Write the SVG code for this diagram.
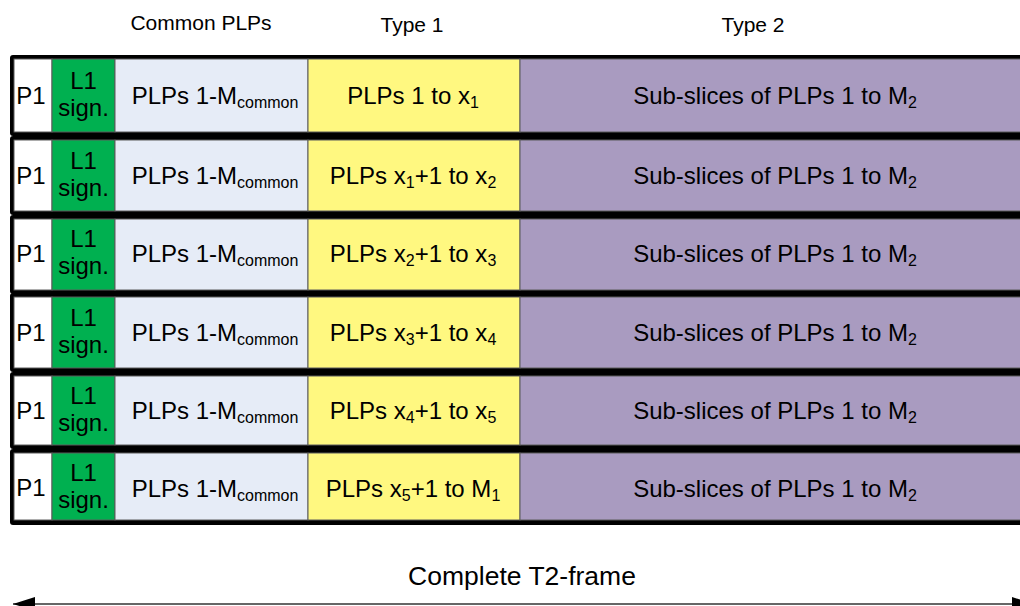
<svg xmlns="http://www.w3.org/2000/svg" width="1020" height="606" viewBox="0 0 1020 606">
<style>
.frame{fill:#000}
.cell{stroke:#5a5a5a;stroke-width:1}
.p1{fill:#fff}
.l1{fill:#00b050}
.com{fill:#e6ecf7}
.t1{fill:#fff880}
.t2{fill:#a99bc0}
text{font-family:"Liberation Sans",Arial,sans-serif;fill:#000}
.c{font-size:24px;text-anchor:middle}
.h{font-size:21px;text-anchor:middle}
.s{font-size:16px}
</style>
<defs>
<marker id="ah" viewBox="0 0 22 14" refX="22" refY="7" markerWidth="22" markerHeight="14" markerUnits="userSpaceOnUse" orient="auto-start-reverse">
<path d="M0,0 L22,7 L0,14 z" fill="#000"/>
</marker>
</defs>
<rect width="1020" height="606" fill="#fff"/>
<g id="headers">
<text class="h" x="201" y="30">Common PLPs</text>
<text class="h" x="412" y="32">Type 1</text>
<text class="h" x="753" y="32">Type 2</text>
</g>
<g id="row1">
<rect class="frame" x="10" y="55" width="1020" height="81" rx="3"/>
<rect class="cell p1" x="14" y="59" width="38" height="73"/>
<rect class="cell l1" x="52" y="59" width="63" height="73"/>
<rect class="cell com" x="115" y="59" width="193" height="73"/>
<rect class="cell t1" x="308" y="59" width="212" height="73"/>
<rect class="cell t2" x="520" y="59" width="510" height="73"/>
<text class="c" x="31" y="104">P1</text>
<text class="c" x="83.5" y="89">L1</text>
<text class="c" x="83.5" y="116">sign.</text>
<text class="c" x="215" y="104">PLPs 1-M<tspan class="s" dy="4">common</tspan></text>
<text class="c" x="413" y="104">PLPs 1 to x<tspan class="s" dy="4">1</tspan></text>
<text class="c" x="775" y="104">Sub-slices of PLPs 1 to M<tspan class="s" dy="4">2</tspan></text>
</g>
<g id="row2">
<rect class="frame" x="10" y="136" width="1020" height="79" rx="3"/>
<rect class="cell p1" x="14" y="140" width="38" height="71"/>
<rect class="cell l1" x="52" y="140" width="63" height="71"/>
<rect class="cell com" x="115" y="140" width="193" height="71"/>
<rect class="cell t1" x="308" y="140" width="212" height="71"/>
<rect class="cell t2" x="520" y="140" width="510" height="71"/>
<text class="c" x="31" y="184">P1</text>
<text class="c" x="83.5" y="169">L1</text>
<text class="c" x="83.5" y="196">sign.</text>
<text class="c" x="215" y="184">PLPs 1-M<tspan class="s" dy="4">common</tspan></text>
<text class="c" x="413" y="184">PLPs x<tspan class="s" dy="4">1</tspan><tspan dy="-4">+1 to x</tspan><tspan class="s" dy="4">2</tspan></text>
<text class="c" x="775" y="184">Sub-slices of PLPs 1 to M<tspan class="s" dy="4">2</tspan></text>
</g>
<g id="row3">
<rect class="frame" x="10" y="215" width="1020" height="79" rx="3"/>
<rect class="cell p1" x="14" y="219" width="38" height="71"/>
<rect class="cell l1" x="52" y="219" width="63" height="71"/>
<rect class="cell com" x="115" y="219" width="193" height="71"/>
<rect class="cell t1" x="308" y="219" width="212" height="71"/>
<rect class="cell t2" x="520" y="219" width="510" height="71"/>
<text class="c" x="31" y="262">P1</text>
<text class="c" x="83.5" y="247">L1</text>
<text class="c" x="83.5" y="274">sign.</text>
<text class="c" x="215" y="262">PLPs 1-M<tspan class="s" dy="4">common</tspan></text>
<text class="c" x="413" y="262">PLPs x<tspan class="s" dy="4">2</tspan><tspan dy="-4">+1 to x</tspan><tspan class="s" dy="4">3</tspan></text>
<text class="c" x="775" y="262">Sub-slices of PLPs 1 to M<tspan class="s" dy="4">2</tspan></text>
</g>
<g id="row4">
<rect class="frame" x="10" y="293" width="1020" height="79" rx="3"/>
<rect class="cell p1" x="14" y="297" width="38" height="71"/>
<rect class="cell l1" x="52" y="297" width="63" height="71"/>
<rect class="cell com" x="115" y="297" width="193" height="71"/>
<rect class="cell t1" x="308" y="297" width="212" height="71"/>
<rect class="cell t2" x="520" y="297" width="510" height="71"/>
<text class="c" x="31" y="341">P1</text>
<text class="c" x="83.5" y="326">L1</text>
<text class="c" x="83.5" y="353">sign.</text>
<text class="c" x="215" y="341">PLPs 1-M<tspan class="s" dy="4">common</tspan></text>
<text class="c" x="413" y="341">PLPs x<tspan class="s" dy="4">3</tspan><tspan dy="-4">+1 to x</tspan><tspan class="s" dy="4">4</tspan></text>
<text class="c" x="775" y="341">Sub-slices of PLPs 1 to M<tspan class="s" dy="4">2</tspan></text>
</g>
<g id="row5">
<rect class="frame" x="10" y="372" width="1020" height="77" rx="3"/>
<rect class="cell p1" x="14" y="376" width="38" height="69"/>
<rect class="cell l1" x="52" y="376" width="63" height="69"/>
<rect class="cell com" x="115" y="376" width="193" height="69"/>
<rect class="cell t1" x="308" y="376" width="212" height="69"/>
<rect class="cell t2" x="520" y="376" width="510" height="69"/>
<text class="c" x="31" y="419">P1</text>
<text class="c" x="83.5" y="404">L1</text>
<text class="c" x="83.5" y="431">sign.</text>
<text class="c" x="215" y="419">PLPs 1-M<tspan class="s" dy="4">common</tspan></text>
<text class="c" x="413" y="419">PLPs x<tspan class="s" dy="4">4</tspan><tspan dy="-4">+1 to x</tspan><tspan class="s" dy="4">5</tspan></text>
<text class="c" x="775" y="419">Sub-slices of PLPs 1 to M<tspan class="s" dy="4">2</tspan></text>
</g>
<g id="row6">
<rect class="frame" x="10" y="449" width="1020" height="76" rx="3"/>
<rect class="cell p1" x="14" y="453" width="38" height="67"/>
<rect class="cell l1" x="52" y="453" width="63" height="67"/>
<rect class="cell com" x="115" y="453" width="193" height="67"/>
<rect class="cell t1" x="308" y="453" width="212" height="67"/>
<rect class="cell t2" x="520" y="453" width="510" height="67"/>
<text class="c" x="31" y="496">P1</text>
<text class="c" x="83.5" y="481">L1</text>
<text class="c" x="83.5" y="508">sign.</text>
<text class="c" x="215" y="497">PLPs 1-M<tspan class="s" dy="4">common</tspan></text>
<text class="c" x="413" y="497">PLPs x<tspan class="s" dy="4">5</tspan><tspan dy="-4">+1 to M</tspan><tspan class="s" dy="4">1</tspan></text>
<text class="c" x="775" y="497">Sub-slices of PLPs 1 to M<tspan class="s" dy="4">2</tspan></text>
</g>
<g id="connectors">
<line x1="13" y1="604" x2="1034" y2="604" stroke="#333" stroke-width="1.5" marker-start="url(#ah)" marker-end="url(#ah)"/>
</g>
<g id="frame-label">
<text x="522" y="585" style="font-size:26.5px;text-anchor:middle">Complete T2-frame</text>
</g>
</svg>
